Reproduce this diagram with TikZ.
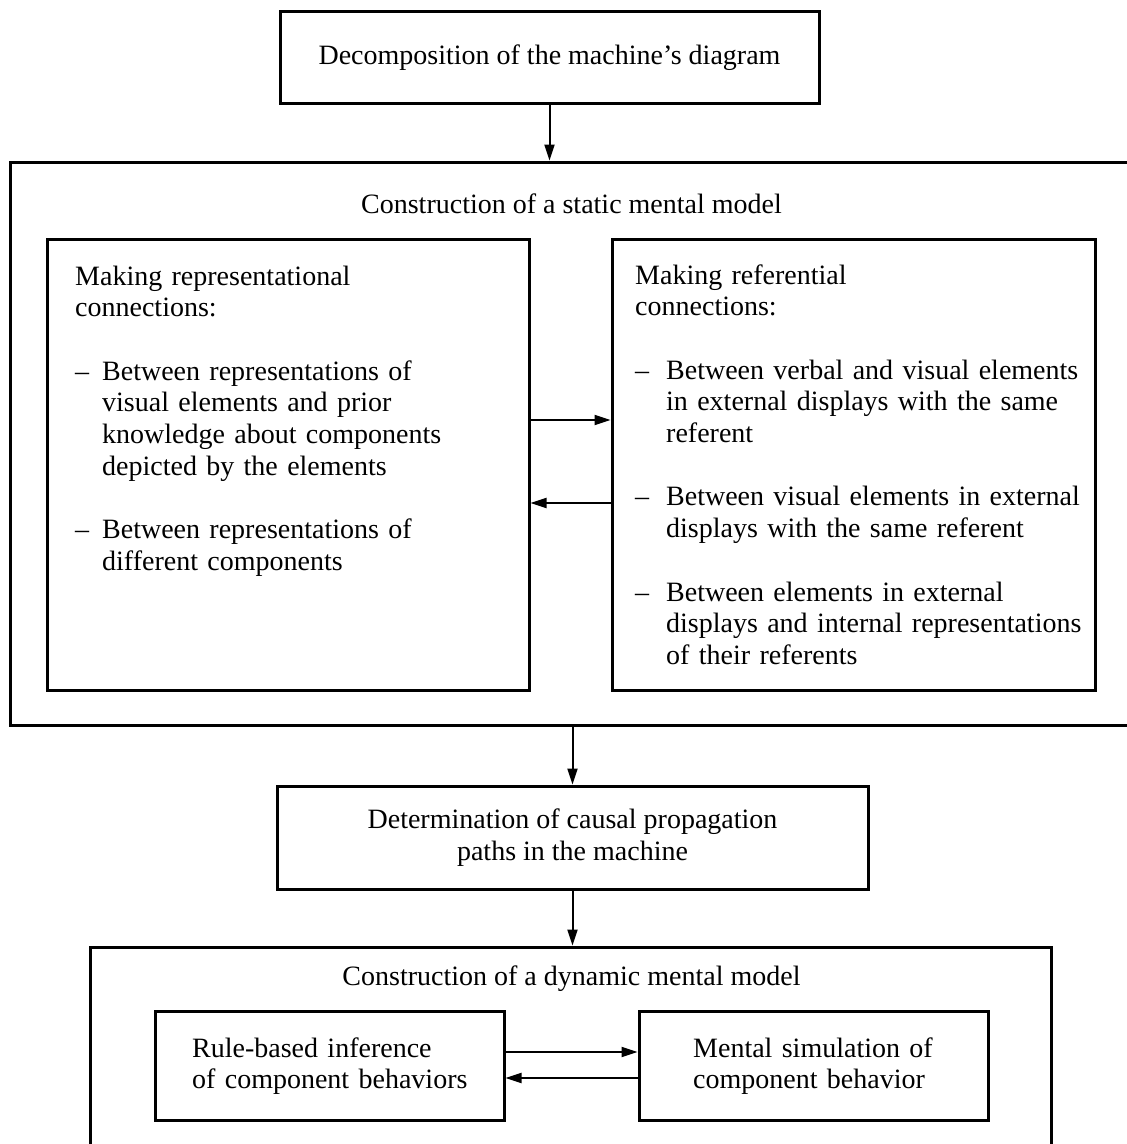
\documentclass[tikz,border=0pt]{standalone}
\usepackage{fontspec}
\setmainfont{Liberation Serif}
\usetikzlibrary{arrows.meta}
\begin{document}
\begin{tikzpicture}[x=1pt,y=-1pt,
  box/.style={draw, line width=3pt, inner sep=0pt},
  arr/.style={line width=2pt, -{Triangle[length=16pt,width=10pt]}},
  txt/.style={inner sep=0pt, font=\fontsize{28}{31.7}\selectfont},
  para/.style={txt, anchor=base west, align=left, text width=#1},
]
\clip (0,0) rectangle (1127,1144);
\fill[white] (0,0) rectangle (1127,1144);

% boxes
\node[box, minimum width=539pt, minimum height=92pt] (decomp) at (549.5,57) {};
\node[box, minimum width=1123pt, minimum height=563pt] (static) at (571.5,443.5) {};
\node[box, minimum width=482pt, minimum height=451pt] (repr) at (288,464.5) {};
\node[box, minimum width=483pt, minimum height=451pt] (refer) at (853.5,464.5) {};
\node[box, minimum width=591pt, minimum height=103pt] (causal) at (572.5,837.5) {};
\node[box, minimum width=961pt, minimum height=253pt] (dynamic) at (570.5,1073.5) {};
\node[box, minimum width=349pt, minimum height=109pt] (rule) at (329.5,1065.5) {};
\node[box, minimum width=349pt, minimum height=109pt] (sim) at (813.5,1065.5) {};

% texts
\node[txt, anchor=base] (tdecomp) at (549.5,64) {Decomposition of the machine's diagram};
\node[txt, anchor=base] (tstatic) at (571.5,213) {Construction of a static mental model};
\node[para=450pt] (trepr) at (75,285) {Making representational\\
connections:\\[31.7pt]
\makebox[27pt][l]{--}Between representations of\\
\hspace*{27pt}visual elements and prior\\
\hspace*{27pt}knowledge about components\\
\hspace*{27pt}depicted by the elements\\[31.7pt]
\makebox[27pt][l]{--}Between representations of\\
\hspace*{27pt}different components};
\node[para=460pt] (trefer) at (635,284) {Making referential\\
connections:\\[31.7pt]
\makebox[31pt][l]{--}Between verbal and visual elements\\
\hspace*{31pt}in external displays with the same\\
\hspace*{31pt}referent\\[31.7pt]
\makebox[31pt][l]{--}Between visual elements in external\\
\hspace*{31pt}displays with the same referent\\[31.7pt]
\makebox[31pt][l]{--}Between elements in external\\
\hspace*{31pt}displays and internal representations\\
\hspace*{31pt}of their referents};
\node[txt, anchor=base, align=center] (tcausal) at (572.5,860) {Determination of causal propagation\\paths in the machine};
\node[txt, anchor=base] (tdynamic) at (571.5,985) {Construction of a dynamic mental model};
\node[para=300pt] (trule) at (192,1057) {Rule-based inference\\of component behaviors};
\node[para=300pt] (tsim) at (693,1057) {Mental simulation of\\component behavior};

% connectors
\draw[arr] (decomp.south) -- (decomp.south |- static.north);
\draw[arr] ([yshift=44.5pt]repr.east) -- ([yshift=44.5pt]refer.west);
\draw[arr] ([yshift=-38.5pt]refer.west) -- ([yshift=-38.5pt]repr.east);
\draw[arr] (causal.north |- static.south) -- (causal.north);
\draw[arr] (causal.south) -- (causal.south |- dynamic.north);
\draw[arr] ([yshift=13.5pt]rule.east) -- ([yshift=13.5pt]sim.west);
\draw[arr] ([yshift=-12.5pt]sim.west) -- ([yshift=-12.5pt]rule.east);
\end{tikzpicture}
\end{document}
